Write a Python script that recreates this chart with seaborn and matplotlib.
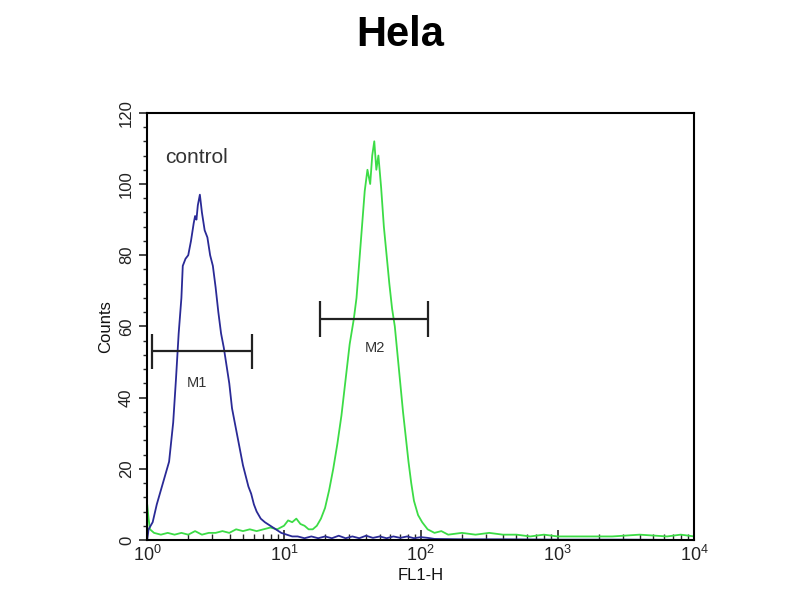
import numpy as np
import pandas as pd
import matplotlib
matplotlib.use("Agg")
import matplotlib.pyplot as plt
import seaborn as sns
from matplotlib.ticker import LogLocator, MultipleLocator

# histogram traces (x as log10 of FL1-H)
control_logx = [0.00, 0.01, 0.04, 0.07, 0.10, 0.13, 0.16, 0.19, 0.21, 0.23, 0.25, 0.26,
                0.28, 0.30, 0.32, 0.34, 0.35, 0.36, 0.37, 0.385, 0.40, 0.42, 0.44, 0.46,
                0.48, 0.50, 0.52, 0.54, 0.56, 0.58, 0.60, 0.62, 0.64, 0.66, 0.68, 0.70,
                0.72, 0.74, 0.76, 0.78, 0.80, 0.83, 0.86, 0.90, 0.94, 0.98, 1.02, 1.06,
                1.10, 1.15, 1.20, 1.25, 1.30, 1.35, 1.40, 1.45, 1.50, 1.55, 1.60, 1.65,
                1.70, 1.75, 1.80, 1.85, 1.90, 1.95, 2.00, 2.05, 2.10, 2.30, 2.60, 3.00,
                3.50, 4.00]
control_counts = [0, 3, 5, 10, 14, 18, 22, 33, 45, 58, 68, 77,
                  79, 80, 84, 89, 91, 90, 94, 97, 92, 87, 85, 80,
                  77, 71, 64, 58, 54, 49, 44, 37, 33, 29, 25, 21,
                  18, 15, 13, 10, 8, 6, 5, 4, 3, 2, 1.5, 1,
                  1, 0.5, 1, 0.5, 1, 0.5, 1.2, 0.5, 1, 0.5, 1.2, 0.6,
                  1, 0.5, 1, 0.6, 1, 0.5, 0.8, 0.6, 0.3, 0.2, 0.2, 0.1,
                  0.1, 0]

sample_logx = [0.00, 0.01, 0.02, 0.05, 0.10, 0.15, 0.20, 0.25, 0.30, 0.35, 0.40, 0.45,
               0.50, 0.55, 0.60, 0.65, 0.70, 0.75, 0.80, 0.85, 0.90, 0.95, 1.00, 1.03,
               1.06, 1.09, 1.12, 1.15, 1.18, 1.21, 1.24, 1.27, 1.30, 1.33, 1.36, 1.39,
               1.42, 1.45, 1.48, 1.51, 1.53, 1.55, 1.57, 1.59, 1.61, 1.63, 1.645, 1.66,
               1.675, 1.69, 1.71, 1.73, 1.75, 1.77, 1.79, 1.81, 1.83, 1.85, 1.87, 1.89,
               1.91, 1.93, 1.95, 1.98, 2.01, 2.05, 2.10, 2.15, 2.20, 2.30, 2.40, 2.50,
               2.60, 2.70, 2.80, 2.90, 3.00, 3.20, 3.40, 3.60, 3.80, 3.90, 4.00]
sample_counts = [10, 6, 3, 2, 1.5, 2, 1.5, 2, 1.5, 2.5, 1.5, 2,
                 2, 2.5, 2, 3, 2.5, 3, 2.5, 3, 3.5, 3, 4, 5.5,
                 5, 6, 4.5, 4, 3, 3, 4, 6, 9, 14, 20, 27,
                 35, 45, 55, 62, 68, 78, 88, 98, 104, 100, 108, 112,
                 104, 108, 99, 88, 80, 72, 65, 60, 52, 44, 36, 29,
                 22, 16, 11, 7, 5, 3, 2, 2.5, 1.5, 2, 1.5, 2,
                 1.5, 1.5, 1, 1.5, 1, 1, 1, 1.5, 1, 1.5, 1]

# marker gates: (start, end, level), label position (x, y)
m1_gate = (1.09, 5.8, 53)
m2_gate = (18.3, 112, 62)
m1_label = (2.32, 44)
m2_label = (46, 54)

control = pd.DataFrame({"FL1-H": 10 ** np.array(control_logx), "Counts": control_counts, "trace": "control"})
sample = pd.DataFrame({"FL1-H": 10 ** np.array(sample_logx), "Counts": sample_counts, "trace": "Hela"})
df = pd.concat([control, sample], ignore_index=True)

sns.set_theme(style="white")
plt.rcParams["font.family"] = ["Liberation Sans", "DejaVu Sans"]

fig = plt.figure(figsize=(8, 6), dpi=100)
ax = fig.add_axes([0.184, 0.1, 0.684, 0.712])

sns.lineplot(data=df, x="FL1-H", y="Counts", hue="trace",
             palette={"control": "#2a2a96", "Hela": "#3cdc46"},
             hue_order=["Hela", "control"], linewidth=1.3, legend=False,
             estimator=None, sort=False, ax=ax)

ax.set_xscale("log")
ax.set_xlim(1, 1e4)
ax.set_ylim(0, 120)

for (x0, x1, lvl), (lx, ly), name in [(m1_gate, m1_label, "M1"), (m2_gate, m2_label, "M2")]:
    ax.hlines(lvl, x0, x1, color="#222222", linewidth=1.6)
    ax.vlines([x0, x1], lvl - 5, lvl + 5, color="#222222", linewidth=1.6)
    ax.text(lx, ly, name, ha="center", va="center", fontsize=10.5, color="#333333")

ax.text(1.35, 107.5, "control", fontsize=15, color="#333333", va="center")

ax.yaxis.set_major_locator(MultipleLocator(20))
ax.yaxis.set_minor_locator(MultipleLocator(4))
ax.xaxis.set_major_locator(LogLocator(base=10))
ax.xaxis.set_minor_locator(LogLocator(base=10, subs=np.arange(2, 10)))

ax.tick_params(axis="y", which="major", direction="out", length=6, width=1.2,
               labelsize=12, labelrotation=90, left=True, labelcolor="#222222")
ax.tick_params(axis="y", which="minor", direction="out", length=3, width=1, left=True)
ax.tick_params(axis="x", which="major", direction="in", length=7, width=1.2,
               labelsize=13, bottom=True, labelcolor="#222222")
ax.tick_params(axis="x", which="minor", direction="in", length=4, width=1, bottom=True)
for lbl in ax.get_yticklabels():
    lbl.set_va("center")

for s in ax.spines.values():
    s.set_color("black")
    s.set_linewidth(1.5)

ax.set_xlabel("FL1-H", fontsize=12, labelpad=2, color="#111111")
ax.set_ylabel("Counts", fontsize=12, labelpad=4, color="#111111")
fig.suptitle("Hela", fontsize=30, fontweight="bold", y=0.975, color="black")

fig.savefig("out.png", dpi=100)
